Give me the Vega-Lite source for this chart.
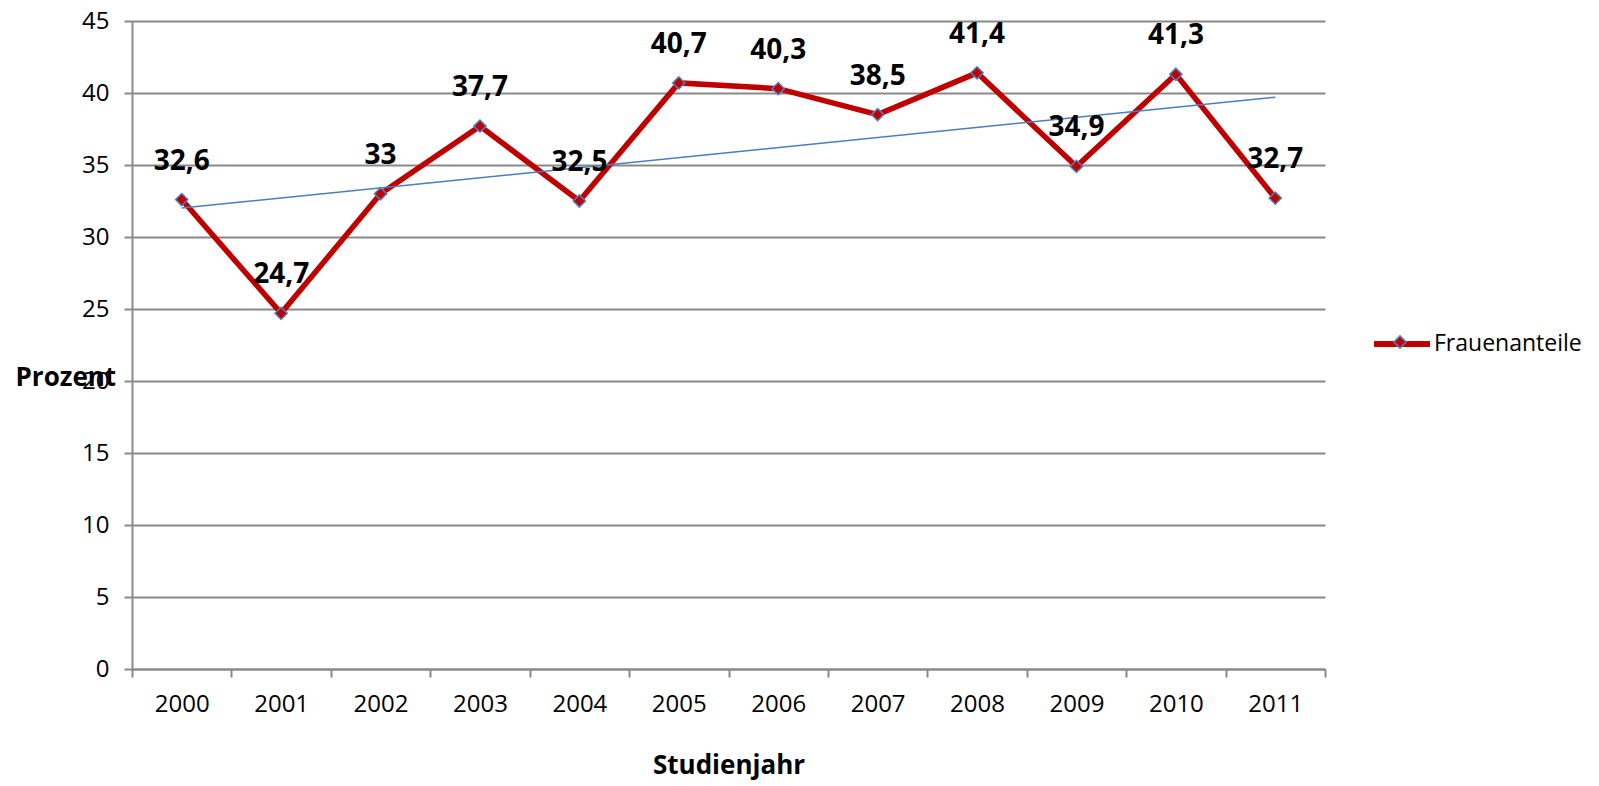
{
  "$schema": "https://vega.github.io/schema/vega-lite/v6.json",
  "width": 1193,
  "height": 648,
  "autosize": {"type": "none"},
  "padding": {"left": 132, "top": 21, "right": 274, "bottom": 117},
  "background": "white",
  "config": {
    "view": {"stroke": null},
    "font": "Open Sans",
    "locale": {"number": {"decimal": ",", "thousands": ".", "grouping": [3], "currency": ["", " €"]}}
  },
  "data": {"values": [
    {"year": 2000, "value": 32.6, "series": "Frauenanteile"},
    {"year": 2001, "value": 24.7, "series": "Frauenanteile"},
    {"year": 2002, "value": 33.0, "series": "Frauenanteile"},
    {"year": 2003, "value": 37.7, "series": "Frauenanteile"},
    {"year": 2004, "value": 32.5, "series": "Frauenanteile"},
    {"year": 2005, "value": 40.7, "series": "Frauenanteile"},
    {"year": 2006, "value": 40.3, "series": "Frauenanteile"},
    {"year": 2007, "value": 38.5, "series": "Frauenanteile"},
    {"year": 2008, "value": 41.4, "series": "Frauenanteile"},
    {"year": 2009, "value": 34.9, "series": "Frauenanteile"},
    {"year": 2010, "value": 41.3, "series": "Frauenanteile"},
    {"year": 2011, "value": 32.7, "series": "Frauenanteile"}
  ]},
  "encoding": {
    "x": {
      "field": "year", "type": "ordinal",
      "scale": {"type": "band", "paddingInner": 0, "paddingOuter": 0},
      "axis": {
        "title": "Studienjahr", "titleFontSize": 26, "titleFontWeight": "bold", "titleColor": "#000000",
        "titlePadding": 36,
        "labelAngle": 0, "labelFontSize": 24, "labelColor": "#000000", "labelPadding": 15,
        "tickBand": "extent", "tickSize": 8, "tickColor": "#898989", "tickWidth": 2,
        "domainColor": "#898989", "domainWidth": 2, "grid": false
      }
    },
    "y": {
      "field": "value", "type": "quantitative",
      "scale": {"domain": [0, 45], "nice": false},
      "axis": {
        "values": [0, 5, 10, 15, 20, 25, 30, 35, 40, 45],
        "title": "Prozent", "titleAngle": 0, "titleFontSize": 26, "titleFontWeight": "bold", "titleColor": "#000000",
        "titleAlign": "left", "titleBaseline": "middle", "titleX": -117, "titleY": 356,
        "labelFontSize": 24, "labelColor": "#000000", "labelPadding": 15,
        "tickSize": 8, "tickColor": "#898989", "tickWidth": 2,
        "domainColor": "#898989", "domainWidth": 2,
        "grid": true, "gridColor": "#898989", "gridWidth": 2
      }
    }
  },
  "layer": [
    {
      "mark": {"type": "line", "strokeWidth": 5.5, "strokeJoin": "miter"},
      "encoding": {
        "stroke": {
          "field": "series", "type": "nominal",
          "scale": {"range": ["#C00000"]},
          "legend": {
            "title": null, "orient": "none", "legendX": 1239, "legendY": 292,
            "symbolType": "stroke", "symbolStrokeWidth": 6, "symbolSize": 3136,
            "labelFontSize": 23, "labelColor": "#000000", "labelOffset": 1
          }
        }
      }
    },
    {
      "transform": [{"regression": "value", "on": "year"}],
      "mark": {"type": "line", "color": "#4A7EBB", "strokeWidth": 1.5},
      "encoding": {}
    },
    {
      "mark": {"type": "point", "shape": "diamond", "filled": true, "size": 150, "stroke": "#4F81BD", "strokeWidth": 1.5, "opacity": 1},
      "encoding": {
        "fill": {
          "field": "series", "type": "nominal",
          "scale": {"range": ["#C00000"]},
          "legend": {
            "title": null, "orient": "none", "legendX": 1261, "legendY": 314,
            "symbolType": "diamond", "symbolSize": 150, "symbolFillColor": "#C00000",
            "symbolStrokeColor": "#4F81BD", "symbolStrokeWidth": 1.5, "symbolOpacity": 1,
            "labelExpr": "''"
          }
        }
      }
    },
    {
      "mark": {"type": "text", "dy": -38, "fontSize": 28, "fontWeight": "bold", "color": "#000000"},
      "encoding": {
        "text": {"field": "value", "type": "quantitative", "format": ".3~g"}
      }
    }
  ]
}
